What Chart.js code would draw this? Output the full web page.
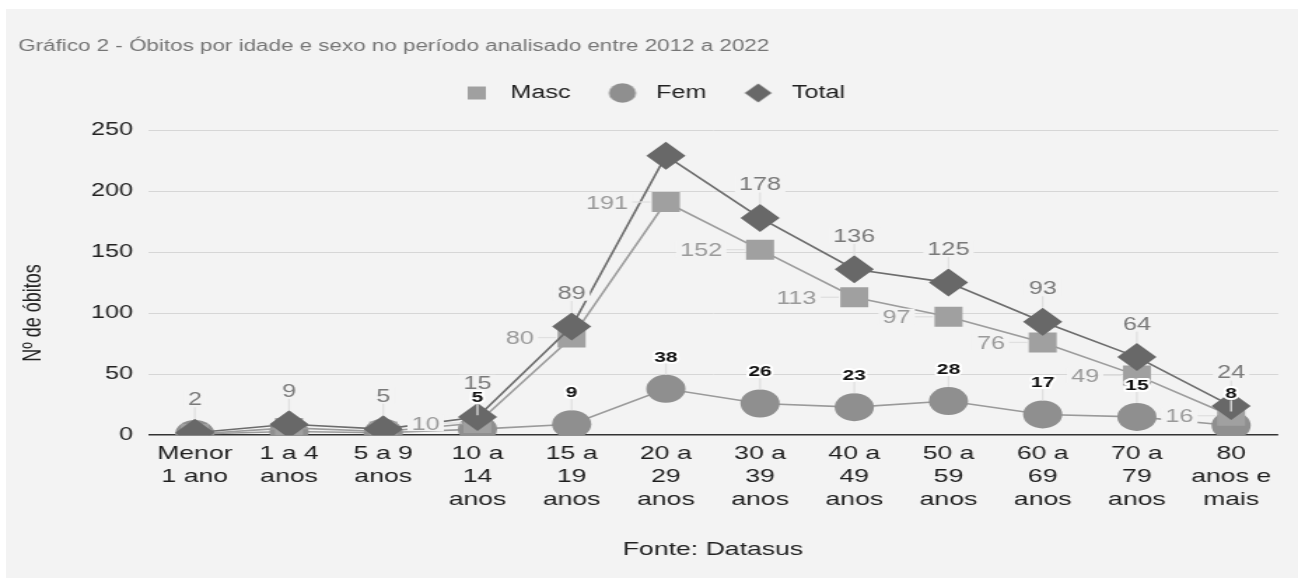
<!DOCTYPE html>
<html>
<head>
<meta charset="utf-8">
<script src="https://cdn.jsdelivr.net/npm/chart.js@4/dist/chart.umd.min.js"></script>
<style>
  html, body { margin: 0; padding: 0; background: #ffffff; width: 1298px; height: 578px; overflow: hidden; }
  #panel { position: absolute; left: 6px; top: 9px; right: 0; bottom: 0; background: #f3f3f3; }
  /* the chart is laid out on a narrower canvas and widened horizontally */
  #wrap { position: absolute; left: 0; top: 0; width: 927px; height: 578px; transform: scaleX(1.40022); transform-origin: 0 0; }
</style>
</head>
<body>
<div id="panel"></div>
<div id="wrap"><canvas id="c" width="927" height="578"></canvas></div>
<script>
// Age groups
const categories = [
  'Menor 1 ano', '1 a 4 anos', '5 a 9 anos', '10 a 14 anos', '15 a 19 anos', '20 a 29 anos',
  '30 a 39 anos', '40 a 49 anos', '50 a 59 anos', '60 a 69 anos', '70 a 79 anos', '80 anos e mais'
];
// Axis tick labels, one array of lines per age group
const tickLabels = [
  ['Menor', '1 ano'], ['1 a 4', 'anos'], ['5 a 9', 'anos'], ['10 a', '14', 'anos'],
  ['15 a', '19', 'anos'], ['20 a', '29', 'anos'], ['30 a', '39', 'anos'], ['40 a', '49', 'anos'],
  ['50 a', '59', 'anos'], ['60 a', '69', 'anos'], ['70 a', '79', 'anos'], ['80', 'anos e', 'mais']
];
// Deaths per age group
const masc  = [1, 6, 3, 10, 80, 191, 152, 113, 97, 76, 49, 16];
const fem   = [1, 3, 2, 5, 9, 38, 26, 23, 28, 17, 15, 8];
const total = [2, 9, 5, 15, 89, 229, 178, 136, 125, 93, 64, 24];

const yTicks = [0, 50, 100, 150, 200, 250];

const chartTitle = 'Gráfico 2 - Óbitos por idade e sexo no período analisado entre 2012 a 2022';
const yAxisTitle = 'Nº de óbitos';
const xAxisTitle = 'Fonte: Datasus';

const FONT = '"Liberation Sans", Arial, Helvetica, sans-serif';
const PANEL = '#f3f3f3';
const COLORS = { masc: '#a0a0a0', fem: '#8f8f8f', total: '#686868' };

Chart.defaults.font.family = FONT;

// small icons for the legend
function icon(shape, color, r) {
  const s = Math.ceil(r * 2 + 2);
  const cv = document.createElement('canvas');
  cv.width = s; cv.height = s;
  const g = cv.getContext('2d');
  const c = s / 2;
  g.fillStyle = color;
  g.beginPath();
  if (shape === 'rect') {
    const h = r * Math.SQRT1_2;
    g.rect(c - h, c - h, 2 * h, 2 * h);
  } else if (shape === 'circle') {
    g.arc(c, c, r, 0, Math.PI * 2);
  } else {
    g.moveTo(c, c - r); g.lineTo(c + r, c); g.lineTo(c, c + r); g.lineTo(c - r, c); g.closePath();
  }
  g.fill();
  return cv;
}
const legendIcons = [
  icon('rect', COLORS.masc, 9.2),
  icon('circle', COLORS.fem, 9.7),
  icon('diamond', COLORS.total, 9.6)
];

// extra room between the legend and the plot
const legendGap = {
  id: 'legendGap',
  beforeInit(chart) {
    const lg = chart.legend;
    const fit = lg.fit;
    lg.fit = function () { fit.call(this); this.height += 18; };
  }
};

// rotated title of the value axis
const yTitle = {
  id: 'yTitle',
  afterDraw(chart) {
    const ctx = chart.ctx;
    ctx.save();
    ctx.translate(23.6, 313);
    ctx.rotate(-Math.PI / 2);
    ctx.font = '18px ' + FONT;
    ctx.fillStyle = '#222222';
    ctx.textAlign = 'center';
    ctx.textBaseline = 'middle';
    ctx.fillText(yAxisTitle, 0, 0);
    ctx.restore();
  }
};

// value labels with thin leader lines; labels that leave the plot or collide are skipped
const valueLabels = {
  id: 'valueLabels',
  afterDatasetsDraw(chart) {
    const ctx = chart.ctx;
    const area = chart.chartArea;
    const specs = [
      { ds: 2, side: 'top',  off: 34,   size: 18, weight: 'normal', color: '#7a7a7a', bg: PANEL, markerR: 14 },
      { ds: 1, side: 'top',  off: 32.5, size: 15, weight: 'bold',   color: '#111111', halo: '#ffffff', markerR: 14 },
      { ds: 0, side: 'left', off: 27,   size: 18, weight: 'normal', color: '#9a9a9a', bg: PANEL, markerR: 10 }
    ];
    const placed = [];
    const items = [];
    specs.forEach(sp => {
      const meta = chart.getDatasetMeta(sp.ds);
      const vals = chart.data.datasets[sp.ds].data;
      ctx.font = sp.weight + ' ' + sp.size + 'px ' + FONT;
      meta.data.forEach((pt, i) => {
        const text = String(vals[i]);
        const w = ctx.measureText(text).width;
        const cap = 0.36 * sp.size;
        let cx, cy;
        if (sp.side === 'top') { cx = pt.x; cy = pt.y - sp.off; }
        else { cx = pt.x - sp.off - w / 2; cy = pt.y; }
        const outside = cx - w / 2 < area.left || cx + w / 2 > area.right ||
                        cy - sp.size / 2 < area.top || cy + sp.size / 2 > area.bottom;
        if (outside) return;
        const box = { l: cx - w / 2, r: cx + w / 2, t: cy - cap, b: cy + cap };
        const hit = placed.some(p => box.l < p.r && box.r > p.l && box.t < p.b && box.b > p.t);
        if (hit) return;
        placed.push(box);
        items.push({ sp, pt, text, w, cx, cy, cap });
      });
    });
    ctx.save();
    // leader lines
    ctx.strokeStyle = '#e0e0e0';
    ctx.lineWidth = 1.3;
    items.forEach(it => {
      ctx.beginPath();
      if (it.sp.side === 'top') {
        ctx.moveTo(it.pt.x, it.cy + it.cap + 2);
        ctx.lineTo(it.pt.x, it.pt.y - it.sp.markerR);
      } else {
        ctx.moveTo(it.cx + it.w / 2 + 2, it.pt.y);
        ctx.lineTo(it.pt.x - it.sp.markerR - 1, it.pt.y);
      }
      ctx.stroke();
    });
    // texts
    items.forEach(it => {
      const sp = it.sp;
      ctx.font = sp.weight + ' ' + sp.size + 'px ' + FONT;
      ctx.textAlign = 'center';
      ctx.textBaseline = 'alphabetic';
      const base = it.cy + it.cap;
      if (sp.bg) {
        ctx.fillStyle = sp.bg;
        ctx.fillRect(it.cx - it.w / 2 - 3, it.cy - sp.size * 0.45, it.w + 6, sp.size * 0.9);
      }
      if (sp.halo) {
        ctx.strokeStyle = sp.halo;
        ctx.lineWidth = 4;
        ctx.lineJoin = 'round';
        ctx.strokeText(it.text, it.cx, base);
      }
      ctx.fillStyle = sp.color;
      ctx.fillText(it.text, it.cx, base);
    });
    ctx.restore();
  }
};

new Chart(document.getElementById('c'), {
  type: 'line',
  data: {
    labels: categories,
    datasets: [
      {
        label: 'Masc', data: masc, order: 1,
        borderColor: '#9c9c9c', borderWidth: 1.6, backgroundColor: COLORS.masc,
        pointStyle: 'rect', pointRadius: 14.14, pointHoverRadius: 14.14, pointBorderWidth: 0,
        tension: 0
      },
      {
        label: 'Fem', data: fem, order: 2,
        borderColor: '#9a9a9a', borderWidth: 1.6, backgroundColor: COLORS.fem,
        pointStyle: 'circle', pointRadius: 14, pointHoverRadius: 14, pointBorderWidth: 0,
        tension: 0
      },
      {
        label: 'Total', data: total, order: 0,
        borderColor: '#6c6c6c', borderWidth: 1.6, backgroundColor: COLORS.total,
        pointStyle: 'rectRot', pointRadius: 14, pointHoverRadius: 14, pointBorderWidth: 0,
        tension: 0
      }
    ]
  },
  options: {
    responsive: false,
    animation: false,
    devicePixelRatio: 1,
    events: [],
    layout: { padding: { left: 13, right: 11, top: 0, bottom: 0 } },
    plugins: {
      title: {
        display: true, text: chartTitle, align: 'start', color: '#757575',
        font: { size: 16, weight: 'normal' }, padding: { top: 37.4, bottom: 5.4 }
      },
      legend: {
        position: 'top', align: 'center',
        labels: {
          usePointStyle: true, pointStyleWidth: 30, padding: 22, color: '#222222',
          font: { size: 18 },
          sort: (a, b) => a.datasetIndex - b.datasetIndex,
          generateLabels(chart) {
            const items = Chart.defaults.plugins.legend.labels.generateLabels(chart);
            items.forEach(it => { it.pointStyle = legendIcons[it.datasetIndex]; });
            return items;
          }
        }
      },
      tooltip: { enabled: false }
    },
    scales: {
      x: {
        offset: true,
        grid: { display: false, drawTicks: false },
        border: { display: false },
        ticks: {
          color: '#1e1e1e', padding: 7, autoSkip: false, maxRotation: 0,
          font: { size: 19, lineHeight: 1.21 },
          callback: (v, i) => tickLabels[i]
        },
        title: {
          display: true, text: xAxisTitle, color: '#222222',
          font: { size: 19 }, padding: { top: 20, bottom: 17 }
        }
      },
      y: {
        min: yTicks[0], max: yTicks[yTicks.length - 1],
        afterBuildTicks: s => { s.ticks = yTicks.map(v => ({ value: v })); },
        afterFit: s => { s.width = 92.5; },
        border: { display: false },
        grid: {
          drawTicks: false,
          color: c => (c.tick && c.tick.value === 0) ? '#333333' : '#d6d6d6',
          lineWidth: c => (c.tick && c.tick.value === 0) ? 1.6 : 1
        },
        ticks: { color: '#222222', padding: 10.5, font: { size: 18 } }
      }
    }
  },
  plugins: [legendGap, yTitle, valueLabels]
});
</script>
</body>
</html>
